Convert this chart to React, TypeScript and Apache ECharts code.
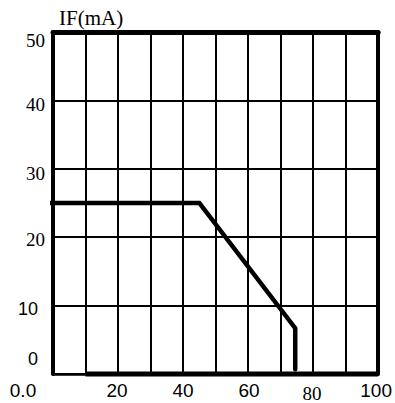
import React, { useEffect, useRef } from "react";
import * as echarts from "echarts";

const xTicks = [0, 20, 40, 60, 80, 100];
const yTicks = [0, 10, 20, 30, 40, 50];
const curveX = [-1.5, 45, 74.5, 74.5];
const curveY = [25, 25, 6.7, 0.7];
const frameBottomX = [10, 100];
const titleText = "IF(mA)";

const SERIF = "'Liberation Serif', 'Times New Roman', serif";
const SANS = "'Liberation Sans', Arial, sans-serif";

export default function App() {
  const ref = useRef<HTMLDivElement>(null);
  useEffect(() => {
    if (!ref.current) return;
    const chart = echarts.init(ref.current, null, { renderer: "svg" });
    const base = { color: "#000", fontWeight: "normal" };
    const yRich: Record<string, any> = {
      y50: { ...base, fontFamily: SERIF, fontSize: 19, padding: [16, 0, 0, 0] },
      y40: { ...base, fontFamily: SERIF, fontSize: 19, padding: [9, 0, 0, 0] },
      y30: { ...base, fontFamily: SERIF, fontSize: 19, padding: [10, 0, 0, 0] },
      y20: { ...base, fontFamily: SERIF, fontSize: 19, padding: [4, 0, 0, 0] },
      y10: { ...base, fontFamily: SANS, fontSize: 18, padding: [7, 7, 0, 0] },
      y0: { ...base, fontFamily: SANS, fontSize: 18, padding: [0, 7, 30, 0] },
    };
    const xRich: Record<string, any> = {
      x0: { ...base, fontFamily: SANS, fontSize: 19, padding: [0, 60, 0, 0] },
      x20: { ...base, fontFamily: SANS, fontSize: 19, padding: [0, 2, 0, 0] },
      x40: { ...base, fontFamily: SANS, fontSize: 19 },
      x60: { ...base, fontFamily: SANS, fontSize: 19, padding: [0, 0, 0, 2] },
      x80: { ...base, fontFamily: SERIF, fontSize: 19, padding: [3, 2, 0, 0] },
      x100: { ...base, fontFamily: SANS, fontSize: 19, padding: [0, 4, 0, 0] },
    };
    chart.setOption({
      animation: false,
      backgroundColor: "#fff",
      title: {
        text: titleText,
        left: 54,
        top: 2,
        textStyle: { fontFamily: SERIF, fontSize: 21, fontWeight: "normal", color: "#000" },
      },
      grid: { left: 53, right: 16, top: 32, bottom: 27, containLabel: false },
      xAxis: [
        {
          type: "value",
          min: 0,
          max: 100,
          interval: 10,
          axisLine: { show: true, onZero: false, lineStyle: { color: "#000", width: 2.5 } },
          axisTick: { show: false },
          splitLine: { show: true, lineStyle: { color: "#000", width: 2 } },
          axisLabel: {
            margin: 7,
            formatter: (v: number) =>
              xTicks.includes(v) ? `{x${v}|${v === 0 ? "0.0" : v}}` : "",
            rich: xRich,
          },
        },
        {
          type: "value",
          position: "top",
          min: 0,
          max: 100,
          axisLine: { show: true, onZero: false, lineStyle: { color: "#000", width: 5 } },
          axisTick: { show: false },
          splitLine: { show: false },
          axisLabel: { show: false },
        },
      ],
      yAxis: [
        {
          type: "value",
          min: 0,
          max: 50,
          interval: 10,
          axisLine: { show: true, onZero: false, lineStyle: { color: "#000", width: 4 } },
          axisTick: { show: false },
          splitLine: { show: true, lineStyle: { color: "#000", width: 2 } },
          axisLabel: {
            margin: 8,
            formatter: (v: number) => (yTicks.includes(v) ? `{y${v}|${v}}` : ""),
            rich: yRich,
          },
        },
        {
          type: "value",
          position: "right",
          min: 0,
          max: 50,
          axisLine: { show: true, onZero: false, lineStyle: { color: "#000", width: 4 } },
          axisTick: { show: false },
          splitLine: { show: false },
          axisLabel: { show: false },
        },
      ],
      series: [
        {
          type: "line",
          data: frameBottomX.map((x) => [x, 0]),
          symbol: "none",
          clip: false,
          silent: true,
          lineStyle: { color: "#000", width: 5 },
          z: 5,
        },
        {
          type: "line",
          data: curveX.map((x, i) => [x, curveY[i]]),
          symbol: "none",
          clip: false,
          lineStyle: { color: "#000", width: 4.5, cap: "round", join: "miter" },
          z: 6,
        },
      ],
    });
    return () => chart.dispose();
  }, []);
  return (
    <div
      ref={ref}
      style={{ position: "fixed", left: 0, top: 0, width: 395, height: 403 }}
    />
  );
}
